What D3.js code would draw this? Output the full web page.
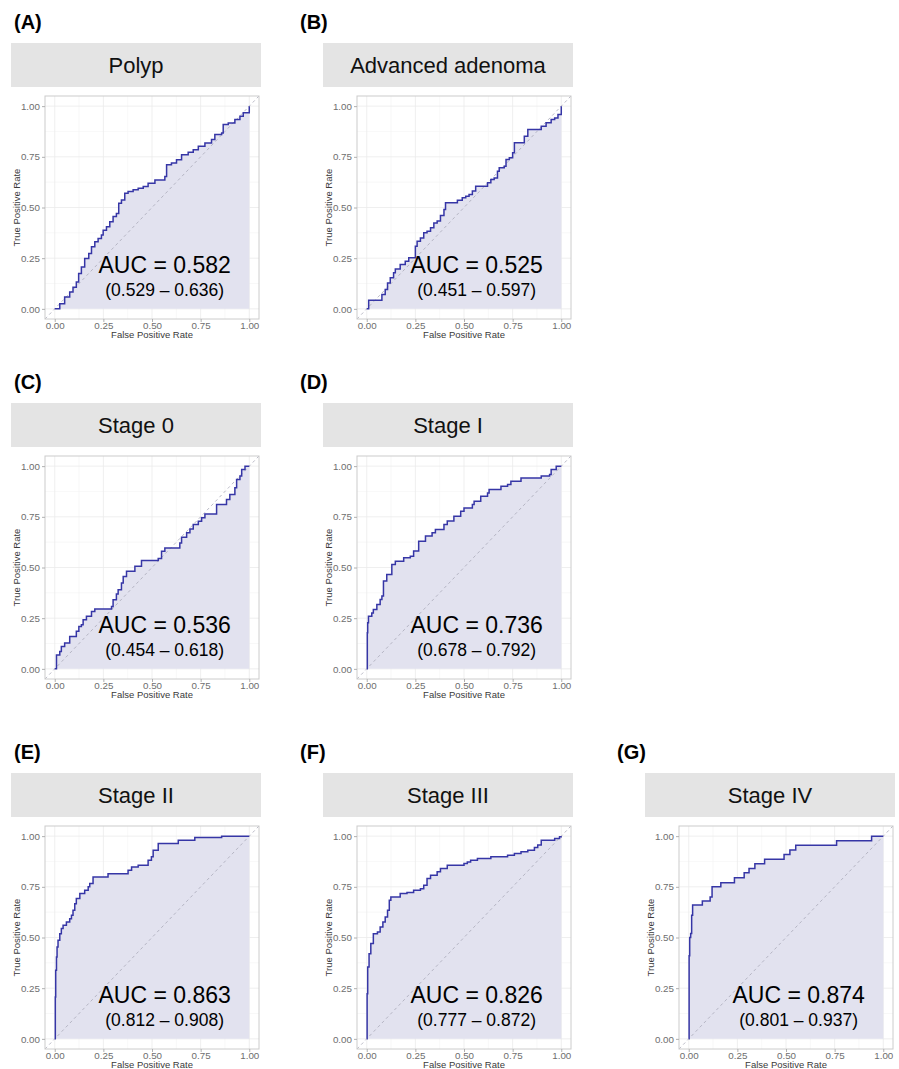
<!DOCTYPE html>
<html>
<head>
<meta charset="utf-8">
<script src="https://cdn.jsdelivr.net/npm/d3@7"></script>
<style>
  body { margin: 0; background: #fff; }
  svg text { font-family: "Liberation Sans", Arial, sans-serif; }
</style>
</head>
<body>
<div id="chart"></div>
<script>
// ---- values ----
const panelLetters = ["(A)", "(B)", "(C)", "(D)", "(E)", "(F)", "(G)"];
const panelTitles = ["Polyp", "Advanced adenoma", "Stage 0", "Stage I", "Stage II", "Stage III", "Stage IV"];
const aucValues = [0.582, 0.525, 0.536, 0.736, 0.863, 0.826, 0.874];
const aucLower = [0.529, 0.451, 0.454, 0.678, 0.812, 0.777, 0.801];
const aucUpper = [0.636, 0.597, 0.618, 0.792, 0.908, 0.872, 0.937];
const tickValues = [0, 0.25, 0.5, 0.75, 1];
const minorTicks = [0.125, 0.375, 0.625, 0.875];

// ROC curves as [false positive rate, true positive rate] step corners
const rocPolyp = [
  [0, 0], [0.026, 0.025], [0.051, 0.058], [0.077, 0.083], [0.094, 0.107], [0.111, 0.132],
  [0.123, 0.174], [0.137, 0.207], [0.154, 0.248], [0.175, 0.273], [0.189, 0.306], [0.206, 0.331],
  [0.223, 0.347], [0.240, 0.364], [0.249, 0.388], [0.266, 0.405], [0.283, 0.430], [0.300, 0.455],
  [0.317, 0.471], [0.329, 0.521], [0.343, 0.537], [0.360, 0.570], [0.377, 0.579], [0.403, 0.587],
  [0.429, 0.595], [0.455, 0.603], [0.480, 0.620], [0.515, 0.636], [0.566, 0.653], [0.575, 0.711],
  [0.600, 0.719], [0.626, 0.736], [0.652, 0.760], [0.686, 0.772], [0.712, 0.785], [0.738, 0.802],
  [0.772, 0.818], [0.806, 0.835], [0.823, 0.860], [0.858, 0.868], [0.866, 0.909], [0.892, 0.917],
  [0.926, 0.934], [0.952, 0.950], [0.969, 0.967], [1, 1]
];
const rocAdvAdenoma = [
  [0, 0], [0.010, 0.043], [0.078, 0.071], [0.095, 0.095], [0.107, 0.128], [0.121, 0.153],
  [0.138, 0.178], [0.147, 0.197], [0.172, 0.219], [0.198, 0.235], [0.216, 0.252], [0.250, 0.309],
  [0.259, 0.334], [0.276, 0.350], [0.293, 0.375], [0.310, 0.383], [0.328, 0.400], [0.345, 0.424],
  [0.362, 0.433], [0.379, 0.461], [0.397, 0.490], [0.405, 0.523], [0.466, 0.536], [0.491, 0.548],
  [0.509, 0.556], [0.526, 0.564], [0.543, 0.581], [0.560, 0.605], [0.621, 0.622], [0.638, 0.638],
  [0.655, 0.646], [0.672, 0.679], [0.681, 0.696], [0.707, 0.704], [0.716, 0.737], [0.733, 0.745],
  [0.750, 0.770], [0.759, 0.819], [0.810, 0.852], [0.828, 0.885], [0.897, 0.901], [0.922, 0.918],
  [0.948, 0.934], [0.966, 0.942], [0.983, 0.959], [1, 1]
];
const rocStage0 = [
  [0, 0], [0.009, 0.069], [0.026, 0.086], [0.034, 0.110], [0.051, 0.127], [0.077, 0.160],
  [0.111, 0.185], [0.124, 0.209], [0.137, 0.217], [0.146, 0.242], [0.163, 0.259], [0.189, 0.283],
  [0.206, 0.295], [0.292, 0.308], [0.300, 0.341], [0.317, 0.369], [0.326, 0.390], [0.343, 0.423],
  [0.352, 0.456], [0.369, 0.481], [0.412, 0.506], [0.446, 0.534], [0.532, 0.544], [0.549, 0.580],
  [0.566, 0.596], [0.643, 0.621], [0.652, 0.649], [0.678, 0.671], [0.695, 0.690], [0.712, 0.712],
  [0.738, 0.728], [0.755, 0.745], [0.772, 0.764], [0.832, 0.811], [0.883, 0.835], [0.900, 0.860],
  [0.926, 0.893], [0.935, 0.934], [0.952, 0.951], [0.961, 0.984], [0.978, 1], [1, 1]
];
const rocStageI = [
  [0, 0], [0.003, 0.178], [0.005, 0.227], [0.009, 0.260], [0.026, 0.276], [0.034, 0.293],
  [0.052, 0.317], [0.069, 0.342], [0.078, 0.359], [0.086, 0.433], [0.103, 0.465], [0.129, 0.515],
  [0.147, 0.531], [0.190, 0.548], [0.224, 0.556], [0.241, 0.581], [0.267, 0.630], [0.302, 0.655],
  [0.336, 0.671], [0.353, 0.688], [0.397, 0.712], [0.414, 0.729], [0.448, 0.753], [0.483, 0.778],
  [0.500, 0.794], [0.543, 0.811], [0.552, 0.827], [0.586, 0.852], [0.621, 0.868], [0.629, 0.885],
  [0.690, 0.901], [0.724, 0.910], [0.741, 0.926], [0.793, 0.942], [0.897, 0.951], [0.940, 0.959],
  [0.948, 0.984], [0.974, 1], [1, 1]
];
const rocStageII = [
  [0, 0], [0.003, 0.206], [0.005, 0.338], [0.009, 0.404], [0.012, 0.453], [0.017, 0.486],
  [0.026, 0.519], [0.034, 0.544], [0.043, 0.560], [0.060, 0.577], [0.077, 0.593], [0.086, 0.610],
  [0.094, 0.634], [0.103, 0.667], [0.111, 0.692], [0.129, 0.717], [0.154, 0.733], [0.172, 0.750],
  [0.180, 0.766], [0.197, 0.799], [0.274, 0.815], [0.377, 0.832], [0.395, 0.848], [0.429, 0.857],
  [0.480, 0.881], [0.497, 0.898], [0.506, 0.931], [0.532, 0.964], [0.635, 0.980], [0.720, 0.993],
  [0.858, 1], [1, 1]
];
const rocStageIII = [
  [0, 0], [0.002, 0.222], [0.005, 0.354], [0.012, 0.420], [0.021, 0.470], [0.034, 0.519],
  [0.055, 0.527], [0.069, 0.552], [0.083, 0.577], [0.095, 0.601], [0.107, 0.634], [0.116, 0.684],
  [0.124, 0.700], [0.172, 0.717], [0.207, 0.722], [0.241, 0.733], [0.276, 0.741], [0.293, 0.758],
  [0.310, 0.791], [0.328, 0.807], [0.362, 0.824], [0.379, 0.840], [0.414, 0.857], [0.500, 0.865],
  [0.517, 0.873], [0.534, 0.881], [0.569, 0.890], [0.638, 0.898], [0.724, 0.906], [0.759, 0.914],
  [0.793, 0.923], [0.828, 0.931], [0.862, 0.944], [0.879, 0.956], [0.897, 0.980], [0.966, 0.988],
  [0.991, 0.997], [1, 1]
];
const rocStageIV = [
  [0, 0], [0.002, 0.41], [0.005, 0.50], [0.010, 0.52], [0.015, 0.61], [0.020, 0.66],
  [0.070, 0.68], [0.110, 0.70], [0.120, 0.75], [0.165, 0.77], [0.235, 0.795], [0.285, 0.82],
  [0.310, 0.84], [0.340, 0.864], [0.390, 0.886], [0.490, 0.909], [0.520, 0.932], [0.550, 0.955],
  [0.760, 0.977], [0.940, 1], [1, 1]
];
const rocCurves = [rocPolyp, rocAdvAdenoma, rocStage0, rocStageI, rocStageII, rocStageIII, rocStageIV];

// ---- page layout ----
const colX = [11, 323, 645];      // left edge of facet strip per column
const rowY = [43, 403, 773];      // top edge of facet strip per row
const letterX = [14, 300, 617];   // panel letter position per column
const panelCell = [[0, 0], [0, 1], [1, 0], [1, 1], [2, 0], [2, 1], [2, 2]]; // [row, col]

const svg = d3.select("#chart").append("svg")
    .attr("width", 899)
    .attr("height", 1069);

class RocPanel {
    constructor(svg, i) {
        this.svg = svg;
        this.i = i;
        this.initialize();
    }

    initialize() {
        const [row, col] = panelCell[this.i];
        const sx = colX[col], sy = rowY[row];
        const left = sx + 34, top = sy + 53, width = 214, height = 223;

        const g = this.svg.append("g");

        // Panel letter
        g.append("text")
            .attr("x", letterX[col])
            .attr("y", sy - 14)
            .attr("font-size", 20)
            .attr("font-weight", "bold")
            .text(panelLetters[this.i]);

        // Facet strip
        g.append("rect")
            .attr("x", sx).attr("y", sy)
            .attr("width", 250).attr("height", 44)
            .attr("fill", "#e4e4e4");
        g.append("text")
            .attr("x", sx + 125).attr("y", sy + 30)
            .attr("text-anchor", "middle")
            .attr("font-size", 22)
            .attr("fill", "#111")
            .text(panelTitles[this.i]);

        // Scales with ggplot's 5% expansion
        const x = d3.scaleLinear().domain([-0.05, 1.05]).range([left, left + width]);
        const y = d3.scaleLinear().domain([-0.05, 1.05]).range([top + height, top]);

        const clipId = "clip" + this.i;
        g.append("clipPath").attr("id", clipId)
            .append("rect")
            .attr("x", left).attr("y", top)
            .attr("width", width).attr("height", height);

        // Grid lines (minor then major)
        const grid = g.append("g");
        grid.selectAll(".vminor").data(minorTicks).enter().append("line")
            .attr("x1", d => x(d)).attr("x2", d => x(d))
            .attr("y1", top).attr("y2", top + height)
            .attr("stroke", "#f4f4f4").attr("stroke-width", 0.6);
        grid.selectAll(".hminor").data(minorTicks).enter().append("line")
            .attr("y1", d => y(d)).attr("y2", d => y(d))
            .attr("x1", left).attr("x2", left + width)
            .attr("stroke", "#f4f4f4").attr("stroke-width", 0.6);
        grid.selectAll(".vmajor").data(tickValues).enter().append("line")
            .attr("x1", d => x(d)).attr("x2", d => x(d))
            .attr("y1", top).attr("y2", top + height)
            .attr("stroke", "#ebebeb").attr("stroke-width", 0.8);
        grid.selectAll(".hmajor").data(tickValues).enter().append("line")
            .attr("y1", d => y(d)).attr("y2", d => y(d))
            .attr("x1", left).attr("x2", left + width)
            .attr("stroke", "#ebebeb").attr("stroke-width", 0.8);

        const data = rocCurves[this.i];

        // Shaded area under the ROC curve
        const area = d3.area()
            .curve(d3.curveStepAfter)
            .x(d => x(d[0]))
            .y0(y(0))
            .y1(d => y(d[1]));
        g.append("path")
            .datum(data)
            .attr("d", area)
            .attr("fill", "#e2e2ef");

        // Chance diagonal, spanning the whole panel
        g.append("line")
            .attr("clip-path", `url(#${clipId})`)
            .attr("x1", x(-0.05)).attr("y1", y(-0.05))
            .attr("x2", x(1.05)).attr("y2", y(1.05))
            .attr("stroke", "#a8a8b8")
            .attr("stroke-width", 0.8)
            .attr("stroke-dasharray", "3,3");

        // ROC curve
        const line = d3.line()
            .curve(d3.curveStepAfter)
            .x(d => x(d[0]))
            .y(d => y(d[1]));
        g.append("path")
            .datum(data)
            .attr("d", line)
            .attr("fill", "none")
            .attr("stroke", "#3636a6")
            .attr("stroke-width", 1.5);

        // Panel border
        g.append("rect")
            .attr("x", left).attr("y", top)
            .attr("width", width).attr("height", height)
            .attr("fill", "none")
            .attr("stroke", "#cccccc")
            .attr("stroke-width", 1);

        // Axes
        const fmt = d3.format(".2f");
        const xAxis = g.append("g")
            .attr("transform", `translate(0, ${top + height})`)
            .call(d3.axisBottom(x).tickValues(tickValues).tickFormat(fmt).tickSize(3).tickPadding(0));
        const yAxis = g.append("g")
            .attr("transform", `translate(${left}, 0)`)
            .call(d3.axisLeft(y).tickValues(tickValues).tickFormat(fmt).tickSize(3).tickPadding(2));
        [xAxis, yAxis].forEach(ax => {
            ax.select(".domain").remove();
            ax.selectAll(".tick line").attr("stroke", "#b0b0b0");
            ax.selectAll(".tick text")
                .attr("fill", "#6e6e6e")
                .attr("font-size", 9.8)
                .attr("font-family", "Liberation Sans, Arial, sans-serif");
        });

        // Axis titles
        g.append("text")
            .attr("x", left + width / 2)
            .attr("y", top + height + 19)
            .attr("text-anchor", "middle")
            .attr("font-size", 9.5)
            .attr("fill", "#3a3a3a")
            .text("False Positive Rate");
        g.append("text")
            .attr("transform", `translate(${left - 25}, ${top + height / 2}) rotate(-90)`)
            .attr("text-anchor", "middle")
            .attr("font-size", 9.5)
            .attr("fill", "#3a3a3a")
            .text("True Positive Rate");

        // AUC annotation
        g.append("text")
            .attr("x", x(0.565)).attr("y", y(0.175))
            .attr("text-anchor", "middle")
            .attr("font-size", 23)
            .attr("fill", "#000")
            .text(`AUC = ${aucValues[this.i].toFixed(3)}`);
        g.append("text")
            .attr("x", x(0.565)).attr("y", y(0.064))
            .attr("text-anchor", "middle")
            .attr("font-size", 17.5)
            .attr("fill", "#000")
            .text(`(${aucLower[this.i].toFixed(3)} \u2013 ${aucUpper[this.i].toFixed(3)})`);
    }
}

panelTitles.forEach((t, i) => new RocPanel(svg, i));
</script>
</body>
</html>
